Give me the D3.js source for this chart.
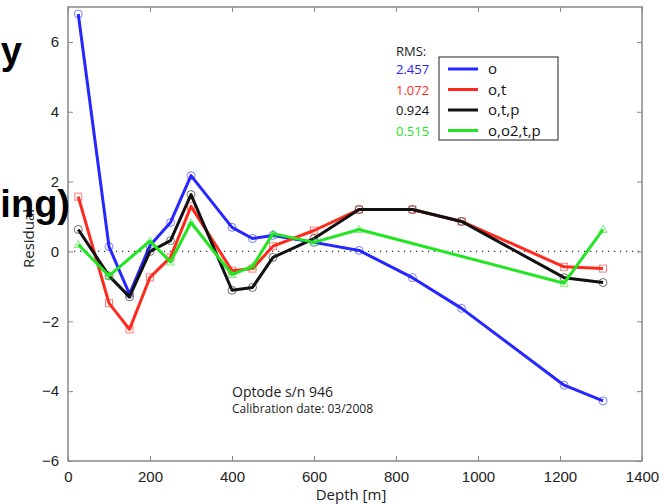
<!DOCTYPE html>
<html>
<head>
<meta charset="utf-8">
<script src="https://cdn.jsdelivr.net/npm/d3@7"></script>
<style>
	body { margin: 0; background: #fff; }
	svg { display: block; font-family: "Open Sans", "Noto Sans", sans-serif; }
	.axis path { display: none; }
	.axis line { stroke: #888; stroke-width: 1; }
	.axis text { font-size: 15px; fill: #222; }
</style>
</head>
<body>
<div id="chart"></div>
<script>
var depths = [25, 100, 150, 200, 250, 300, 400, 450, 500, 600, 710, 840, 960, 1210, 1305];
var resO = [6.8, 0.14, -1.22, 0.17, 0.83, 2.17, 0.69, 0.37, 0.46, 0.26, 0.03, -0.75, -1.63, -3.83, -4.28];
var resOT = [1.57, -1.48, -2.23, -0.74, -0.17, 1.29, -0.55, -0.49, 0.15, 0.6, 1.2, 1.2, 0.86, -0.44, -0.49];
var resOTP = [0.63, -0.7, -1.3, 0.0, 0.31, 1.63, -1.11, -1.03, -0.17, 0.37, 1.2, 1.2, 0.86, -0.75, -0.89];
var greenDepths = [25, 100, 200, 250, 300, 400, 450, 500, 600, 710, 1210, 1305];
var resOO2TP = [0.2, -0.7, 0.3, -0.3, 0.83, -0.66, -0.43, 0.51, 0.26, 0.63, -0.91, 0.63];
var seriesNames = ['o', 'o,t', 'o,t,p', 'o,o2,t,p'];
var rmsValues = ['2.457', '1.072', '0.924', '0.515'];
var xTicks = [0, 200, 400, 600, 800, 1000, 1200, 1400];
var yTicks = [-6, -4, -2, 0, 2, 4, 6];

var width = 666, height = 504;
var margin = {top: 7, right: 24, bottom: 43, left: 68};

var colors = ['#2626ff', '#ff2a1e', '#111111', '#22e622'];
var markers = ['circle', 'square', 'circle', 'triangle'];

var series = [
	{name: seriesNames[0], rms: rmsValues[0], x: depths, y: resO},
	{name: seriesNames[1], rms: rmsValues[1], x: depths, y: resOT},
	{name: seriesNames[2], rms: rmsValues[2], x: depths, y: resOTP},
	{name: seriesNames[3], rms: rmsValues[3], x: greenDepths, y: resOO2TP}
];

var svg = d3.select('#chart').append('svg')
	.attr('width', width)
	.attr('height', height);

svg.append('rect')
	.attr('width', width)
	.attr('height', height)
	.attr('fill', '#fff');

var x = d3.scaleLinear()
	.domain([0, 1400])
	.range([margin.left, width - margin.right]);

var y = d3.scaleLinear()
	.domain([-6, 7])
	.range([height - margin.bottom, margin.top]);

// slide title fragment behind the figure
svg.append('text')
	.attr('x', 22)
	.attr('y', 64)
	.attr('text-anchor', 'end')
	.style('font-family', '"Liberation Sans", Arial, sans-serif')
	.style('font-weight', 'bold')
	.style('font-size', '38px')
	.attr('fill', '#000')
	.text('y');

// zero line
svg.append('line')
	.attr('x1', x(0))
	.attr('x2', x(1400))
	.attr('y1', y(0))
	.attr('y2', y(0))
	.attr('stroke', '#333')
	.attr('stroke-width', 1.2)
	.attr('stroke-dasharray', '1.2,4.8');

// axes, ticks pointing inwards
var xAxisB = d3.axisBottom(x).tickValues(xTicks).tickSizeInner(-5).tickSizeOuter(0).tickPadding(10).tickFormat(d3.format('d'));
var xAxisT = d3.axisTop(x).tickValues(xTicks).tickSizeInner(-5).tickSizeOuter(0).tickFormat('');
var yAxisL = d3.axisLeft(y).tickValues(yTicks).tickSizeInner(-5).tickSizeOuter(0).tickPadding(9)
	.tickFormat(function(d) { return d < 0 ? '\u2212' + Math.abs(d) : d; });
var yAxisR = d3.axisRight(y).tickValues(yTicks).tickSizeInner(-5).tickSizeOuter(0).tickFormat('');

svg.append('g').attr('class', 'axis').attr('transform', 'translate(0,' + y(-6) + ')').call(xAxisB);
svg.append('g').attr('class', 'axis').attr('transform', 'translate(0,' + y(7) + ')').call(xAxisT);
svg.append('g').attr('class', 'axis').attr('transform', 'translate(' + x(0) + ',0)').call(yAxisL);
svg.append('g').attr('class', 'axis').attr('transform', 'translate(' + x(1400) + ',0)').call(yAxisR);

svg.append('rect')
	.attr('x', x(0))
	.attr('y', y(7))
	.attr('width', x(1400) - x(0))
	.attr('height', y(-6) - y(7))
	.attr('fill', 'none')
	.attr('stroke', '#888')
	.attr('stroke-width', 1.5);

// series lines
var line = d3.line()
	.x(function(d) { return x(d[0]); })
	.y(function(d) { return y(d[1]); });

series.forEach(function(s, i) {
	var pts = s.x.map(function(d, j) { return [d, s.y[j]]; });
	svg.append('path')
		.datum(pts)
		.attr('fill', 'none')
		.attr('stroke', colors[i])
		.attr('stroke-width', 3)
		.attr('stroke-linejoin', 'round')
		.attr('d', line);

	var g = svg.append('g');
	pts.forEach(function(p) {
		var px = x(p[0]), py = y(p[1]);
		if (markers[i] == 'circle') {
			g.append('circle').attr('cx', px).attr('cy', py).attr('r', 4);
		} else if (markers[i] == 'square') {
			g.append('rect').attr('x', px - 3.5).attr('y', py - 3.5).attr('width', 7).attr('height', 7);
		} else {
			g.append('path').attr('d', 'M' + px + ',' + (py - 4) + 'L' + (px + 4) + ',' + (py + 3) + 'L' + (px - 4) + ',' + (py + 3) + 'Z');
		}
	});
	g.selectAll('*')
		.attr('fill', 'none')
		.attr('stroke', d3.color(colors[i]).copy({opacity: 0.6}))
		.attr('stroke-width', 1);
});

// legend + RMS column
var legend = svg.append('g');

legend.append('rect')
	.attr('x', 439)
	.attr('y', 57)
	.attr('width', 119)
	.attr('height', 83)
	.attr('fill', '#fff')
	.attr('stroke', '#222')
	.attr('stroke-width', 1);

legend.append('text')
	.attr('x', 396)
	.attr('y', 56)
	.style('font-size', '13px')
	.attr('fill', '#222')
	.text('RMS:');

series.forEach(function(s, i) {
	var ry = 69 + i * 20.5;
	legend.append('line')
		.attr('x1', 448)
		.attr('x2', 478)
		.attr('y1', ry)
		.attr('y2', ry)
		.attr('stroke', colors[i])
		.attr('stroke-width', 3);
	legend.append('text')
		.attr('x', 488)
		.attr('y', ry + 5)
		.style('font-size', '15px')
		.attr('fill', '#111')
		.text(s.name);
	legend.append('text')
		.attr('x', 396)
		.attr('y', ry + 5)
		.style('font-size', '13px')
		.attr('fill', colors[i])
		.text(s.rms);
});

// annotation
svg.append('text')
	.attr('x', 232)
	.attr('y', 397)
	.style('font-size', '14px')
	.attr('fill', '#222')
	.text('Optode s/n 946');

svg.append('text')
	.attr('x', 232)
	.attr('y', 413)
	.style('font-size', '12px')
	.attr('fill', '#222')
	.text('Calibration date: 03/2008');

// axis labels
svg.append('text')
	.attr('x', (x(0) + x(1400)) / 2 - 4)
	.attr('y', 500)
	.attr('text-anchor', 'middle')
	.style('font-size', '15px')
	.attr('fill', '#222')
	.text('Depth [m]');

svg.append('text')
	.attr('transform', 'translate(34,268) rotate(-90)')
	.attr('text-anchor', 'start')
	.style('font-size', '15px')
	.attr('fill', '#222')
	.text('Residual');

svg.append('text')
	.attr('x', 70)
	.attr('y', 217)
	.attr('text-anchor', 'end')
	.style('font-family', '"Liberation Sans", Arial, sans-serif')
	.style('font-weight', 'bold')
	.style('font-size', '38px')
	.attr('fill', '#000')
	.text('ing)');
</script>
</body>
</html>
